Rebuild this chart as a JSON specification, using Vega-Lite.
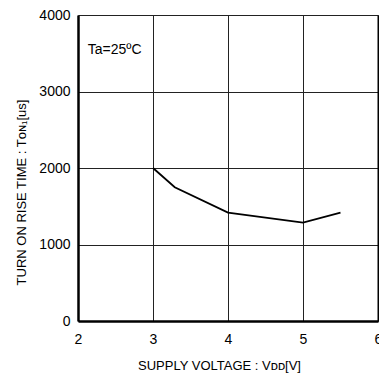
{
  "$schema": "https://vega.github.io/schema/vega-lite/v6.json",
  "autosize": {"type": "none"},
  "width": 300,
  "height": 306,
  "padding": {"left": 78, "top": 15, "right": 1, "bottom": 59},
  "background": "white",
  "config": {
    "view": {"stroke": null},
    "font": "Liberation Sans",
    "axis": {"labelFont": "Liberation Sans", "titleFont": "Liberation Sans", "labelColor": "#000", "titleColor": "#000", "titleFontWeight": "normal", "labelFontSize": 14, "titleFontSize": 13}
  },
  "datasets": {
    "curve": [
      {"v": 3.0, "t": 2000},
      {"v": 3.29, "t": 1748},
      {"v": 4.0, "t": 1416},
      {"v": 5.0, "t": 1285},
      {"v": 5.5, "t": 1416}
    ],
    "note": [{"v": 2.13, "t": 3540, "label": "Ta=25ºC"}]
  },
  "layer": [
    {
      "data": {"name": "curve"},
      "mark": {"type": "line", "color": "black", "strokeWidth": 1.8},
      "encoding": {
        "x": {
          "field": "v", "type": "quantitative",
          "scale": {"domain": [2, 6], "nice": false, "zero": false},
          "axis": {
            "values": [2, 3, 4, 5, 6], "format": "d", "title": "SUPPLY VOLTAGE : Vᴅᴅ[V]",
            "grid": true, "gridColor": "#222", "gridWidth": 1,
            "domainColor": "black", "domainWidth": 2.5, "ticks": false,
            "labelPadding": 11, "titlePadding": 13, "labelFlush": false,
            "titleX": 141
          }
        },
        "y": {
          "field": "t", "type": "quantitative",
          "scale": {"domain": [0, 4000], "nice": false},
          "axis": {
            "values": [0, 1000, 2000, 3000, 4000], "format": "d", "title": "TURN ON RISE TIME : Tᴏɴ₁[us]",
            "grid": true, "gridColor": "#222", "gridWidth": 1,
            "domainColor": "black", "domainWidth": 2.5, "ticks": false,
            "labelPadding": 8, "titlePadding": 10, "labelFlush": false,
            "titleY": 177
          }
        }
      }
    },
    {
      "data": {"name": "note"},
      "mark": {"type": "text", "align": "left", "baseline": "middle", "fontSize": 14, "font": "Liberation Sans", "color": "black"},
      "encoding": {
        "x": {"field": "v", "type": "quantitative"},
        "y": {"field": "t", "type": "quantitative", "axis": {"orient": "right", "title": null, "labels": false, "ticks": false, "grid": false, "domainColor": "black", "domainWidth": 2}},
        "text": {"field": "label"}
      }
    }
  ],
  "resolve": {"axis": {"y": "independent"}, "scale": {"y": "shared"}}
}
